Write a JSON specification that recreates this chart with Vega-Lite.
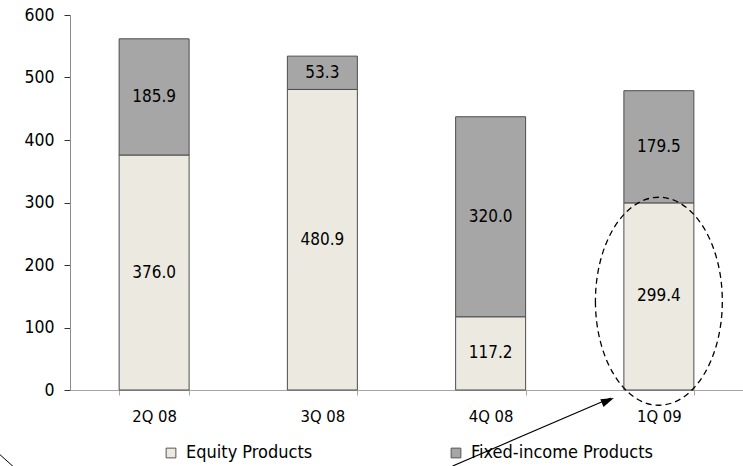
{
  "$schema": "https://vega.github.io/schema/vega-lite/v6.json",
  "width": 673,
  "height": 375,
  "autosize": {"type": "none"},
  "padding": {"left": 70, "top": 15, "right": 0, "bottom": 76},
  "background": "white",
  "config": {
    "view": {"stroke": null},
    "font": "DejaVu Sans Condensed",
    "axis": {"labelFont": "DejaVu Sans Condensed", "labelColor": "#000000", "grid": false, "title": null}
  },
  "datasets": {
    "volumes": [
      {"quarter": "2Q 08", "series": "Equity Products", "value": 376.0},
      {"quarter": "2Q 08", "series": "Fixed-income Products", "value": 185.9},
      {"quarter": "3Q 08", "series": "Equity Products", "value": 480.9},
      {"quarter": "3Q 08", "series": "Fixed-income Products", "value": 53.3},
      {"quarter": "4Q 08", "series": "Equity Products", "value": 117.2},
      {"quarter": "4Q 08", "series": "Fixed-income Products", "value": 320.0},
      {"quarter": "1Q 09", "series": "Equity Products", "value": 299.4},
      {"quarter": "1Q 09", "series": "Fixed-income Products", "value": 179.5}
    ],
    "highlight": [
      {"quarter": "1Q 09", "value": 142}
    ],
    "arrow": [
      {"from": "4Q 08", "fromValue": -121.6, "to": "1Q 09", "toValue": -12.8}
    ],
    "stub": [
      {"from": "2Q 08", "fromValue": -100.8, "to": "2Q 08", "toValue": -131}
    ]
  },
  "layer": [
    {
      "data": {"name": "volumes"},
      "mark": {"type": "bar", "stroke": "#4d4d4d", "strokeWidth": 1},
      "encoding": {
        "x": {
          "field": "quarter",
          "type": "nominal",
          "scale": {"domain": ["2Q 08", "3Q 08", "4Q 08", "1Q 09"], "paddingInner": 0.584, "paddingOuter": 0.292},
          "axis": {
            "labelAngle": 0,
            "labelFontSize": 16.5,
            "labelPadding": 13,
            "domainColor": "#a6a6a6",
            "tickColor": "#a6a6a6",
            "tickSize": 5,
            "tickBand": "extent"
          }
        },
        "y": {
          "field": "value",
          "type": "quantitative",
          "stack": "zero",
          "scale": {"domain": [0, 600]},
          "axis": {
            "values": [0, 100, 200, 300, 400, 500, 600],
            "labelFontSize": 17.5,
            "labelPadding": 10,
            "domainColor": "#8c8c8c",
            "tickColor": "#333333",
            "tickSize": 6
          }
        },
        "order": {"field": "series", "sort": "ascending"},
        "color": {
          "field": "series",
          "type": "nominal",
          "scale": {
            "domain": ["Equity Products", "Fixed-income Products"],
            "range": ["#eceae0", "#a6a6a6"]
          },
          "legend": {
            "orient": "none",
            "direction": "horizontal",
            "legendX": 92,
            "legendY": 429,
            "title": null,
            "symbolType": "square",
            "symbolSize": 95,
            "symbolStrokeColor": "#555555",
            "symbolStrokeWidth": 1,
            "labelFont": "DejaVu Sans Condensed",
            "labelFontSize": 18,
            "labelColor": "#000000",
            "labelLimit": 400,
            "labelOffset": 6,
            "columnPadding": 134
          }
        }
      }
    },
    {
      "data": {"name": "volumes"},
      "mark": {"type": "text", "font": "DejaVu Sans Condensed", "fontSize": 17, "color": "#000000", "baseline": "middle"},
      "encoding": {
        "x": {"field": "quarter", "type": "nominal", "scale": {"domain": ["2Q 08", "3Q 08", "4Q 08", "1Q 09"]}},
        "y": {"field": "value", "type": "quantitative", "stack": "zero", "bandPosition": 0.5},
        "order": {"field": "series", "sort": "ascending"},
        "detail": {"field": "series"},
        "text": {"field": "value", "type": "quantitative", "format": ".1f"}
      }
    },
    {
      "data": {"name": "highlight"},
      "mark": {
        "type": "point",
        "shape": "M -0.61 0 A 0.61 1 0 1 0 0.61 0 A 0.61 1 0 1 0 -0.61 0 Z",
        "size": 43264,
        "filled": false,
        "stroke": "#000000",
        "strokeWidth": 1.3,
        "strokeDash": [6, 4],
        "opacity": 1,
        "clip": false
      },
      "encoding": {
        "x": {"field": "quarter", "type": "nominal", "scale": {"domain": ["2Q 08", "3Q 08", "4Q 08", "1Q 09"]}},
        "y": {"field": "value", "type": "quantitative"}
      }
    },
    {
      "data": {"name": "arrow"},
      "mark": {"type": "rule", "color": "#000000", "strokeWidth": 1.2, "xOffset": -38, "x2Offset": -48, "clip": false},
      "encoding": {
        "x": {"field": "from", "type": "nominal", "scale": {"domain": ["2Q 08", "3Q 08", "4Q 08", "1Q 09"]}},
        "x2": {"field": "to"},
        "y": {"field": "fromValue", "type": "quantitative"},
        "y2": {"field": "toValue"}
      }
    },
    {
      "data": {"name": "arrow"},
      "mark": {
        "type": "point",
        "shape": "M 0 0 L -1 -0.32 L -1 0.32 Z",
        "size": 676,
        "filled": true,
        "color": "#000000",
        "opacity": 1,
        "angle": -23,
        "xOffset": -45,
        "clip": false
      },
      "encoding": {
        "x": {"field": "to", "type": "nominal", "scale": {"domain": ["2Q 08", "3Q 08", "4Q 08", "1Q 09"]}},
        "y": {"field": "toValue", "type": "quantitative"}
      }
    },
    {
      "data": {"name": "stub"},
      "mark": {"type": "rule", "color": "#000000", "strokeWidth": 1, "xOffset": -156, "x2Offset": -135, "clip": false},
      "encoding": {
        "x": {"field": "from", "type": "nominal", "scale": {"domain": ["2Q 08", "3Q 08", "4Q 08", "1Q 09"]}},
        "x2": {"field": "to"},
        "y": {"field": "fromValue", "type": "quantitative"},
        "y2": {"field": "toValue"}
      }
    }
  ]
}
